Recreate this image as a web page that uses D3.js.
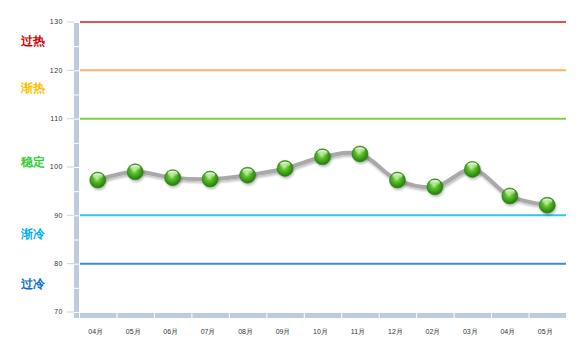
<!DOCTYPE html>
<html>
<head>
<meta charset="utf-8">
<script src="https://cdn.jsdelivr.net/npm/d3@7"></script>
<style>
  body { margin: 0; background: #fff; }
  text { font-family: "Liberation Sans", Arial, sans-serif; }
</style>
</head>
<body>
<svg id="chart" width="580" height="354"></svg>
<script>
var months = ["04月", "05月", "06月", "07月", "08月", "09月", "10月", "11月", "12月", "02月", "03月", "04月", "05月"]
var values = [97.3, 99.0, 97.8, 97.5, 98.3, 99.7, 102.1, 102.7, 97.3, 95.9, 99.5, 94.0, 92.1]
var yTicks = [70, 80, 90, 100, 110, 120, 130]
var levelValues = [130, 120, 110, 90, 80]
var levelColors = ["#d9534f", "#f9b36a", "#7ccf4a", "#33c6e8", "#3a8ed8"]
var zoneNames = ["过热", "渐热", "稳定", "渐冷", "过冷"]
var zoneValues = [126.2, 116.4, 101.0, 86.1, 75.8]
var zoneColors = ["#d40000", "#ffc000", "#33cc33", "#00b0f0", "#0a6fc8"]

var svg = d3.select("#chart")
var plotLeft = 79, plotRight = 566, plotTop = 22, plotBottom = 312

var x = d3.scaleBand().domain(d3.range(months.length)).range([plotLeft, plotRight])
var y = d3.scaleLinear().domain([70, 130]).range([plotBottom, plotTop])

var defs = svg.append("defs")
var grad = defs.append("radialGradient").attr("id", "ball")
    .attr("cx", "45%").attr("cy", "40%").attr("r", "60%")
grad.append("stop").attr("offset", "0%").attr("stop-color", "#b8f08a")
grad.append("stop").attr("offset", "35%").attr("stop-color", "#5cc12c")
grad.append("stop").attr("offset", "85%").attr("stop-color", "#2f8a12")
grad.append("stop").attr("offset", "100%").attr("stop-color", "#2a7a10")
var shine = defs.append("linearGradient").attr("id", "shine")
    .attr("x1", 0).attr("y1", 0).attr("x2", 0).attr("y2", 1)
shine.append("stop").attr("offset", "0%").attr("stop-color", "#fff").attr("stop-opacity", 0.95)
shine.append("stop").attr("offset", "100%").attr("stop-color", "#fff").attr("stop-opacity", 0.1)
var shadow = defs.append("filter").attr("id", "shadow").attr("x", "-20%").attr("y", "-50%").attr("width", "140%").attr("height", "200%")
shadow.append("feDropShadow").attr("dx", 1).attr("dy", 2).attr("stdDeviation", 1.2)
    .attr("flood-color", "#000").attr("flood-opacity", 0.25)

// y axis bar, split every 5 units
var yseg = d3.range(70, 130, 5)
svg.selectAll(".yseg").data(yseg).enter().append("rect")
    .attr("x", 74).attr("width", 5)
    .attr("y", d => y(d + 5) + 1).attr("height", d => y(d) - y(d + 5) - 1)
    .attr("fill", "#bccbdd")

// x axis bar, split per category
svg.selectAll(".xseg").data(d3.range(months.length)).enter().append("rect")
    .attr("x", d => x(d) + 1).attr("width", x.bandwidth() - 1)
    .attr("y", plotBottom + 1).attr("height", 5)
    .attr("fill", "#bccbdd")
svg.append("rect").attr("x", 74).attr("y", plotBottom + 1).attr("width", 5).attr("height", 5).attr("fill", "#bccbdd")

// tick marks and labels
svg.selectAll(".tk").data(yTicks).enter().append("line")
    .attr("x1", 67).attr("x2", 74)
    .attr("y1", d => y(d)).attr("y2", d => y(d))
    .attr("stroke", "#ccd4de").attr("stroke-width", 1)
svg.selectAll(".tl").data(yTicks).enter().append("text")
    .attr("x", 63).attr("y", d => y(d))
    .attr("dy", "0.35em").attr("text-anchor", "end")
    .attr("font-size", 7).attr("fill", "#333").attr("letter-spacing", 0.5)
    .text(d => d)

svg.selectAll(".xl").data(months).enter().append("text")
    .attr("x", (d, i) => x(i) + x.bandwidth() / 2 - 2)
    .attr("y", 332).attr("dy", "0.35em").attr("text-anchor", "middle")
    .attr("font-size", 7).attr("fill", "#333")
    .text(d => d)

// level lines
svg.selectAll(".lv").data(levelValues).enter().append("line")
    .attr("x1", plotLeft + 1).attr("x2", plotRight)
    .attr("y1", d => y(d)).attr("y2", d => y(d))
    .attr("stroke", (d, i) => levelColors[i]).attr("stroke-width", 2)

// zone labels
svg.selectAll(".zn").data(zoneNames).enter().append("text")
    .attr("x", 21).attr("y", (d, i) => y(zoneValues[i]))
    .attr("dy", "0.35em")
    .attr("font-family", "'Noto Sans CJK SC', sans-serif")
    .attr("font-size", 12).attr("font-weight", "bold")
    .attr("fill", (d, i) => zoneColors[i])
    .text(d => d)

// series line
var line = d3.line()
    .x((d, i) => x(i) + x.bandwidth() / 2)
    .y(d => y(d))
    .curve(d3.curveCatmullRom.alpha(0.5))
svg.append("path").datum(values)
    .attr("d", line).attr("fill", "none")
    .attr("stroke", "#a9a9a9").attr("stroke-width", 4)
    .attr("filter", "url(#shadow)")

// markers
var pts = svg.selectAll(".pt").data(values).enter().append("g")
    .attr("transform", (d, i) => "translate(" + (x(i) + x.bandwidth() / 2) + "," + y(d) + ")")
pts.append("circle").attr("r", 8).attr("fill", "url(#ball)")
    .attr("stroke", "#2e7d12").attr("stroke-width", 0.6)
    .attr("filter", "url(#shadow)")
pts.append("ellipse").attr("cx", 0).attr("cy", -4).attr("rx", 5).attr("ry", 2.8)
    .attr("fill", "url(#shine)")
</script>
</body>
</html>
